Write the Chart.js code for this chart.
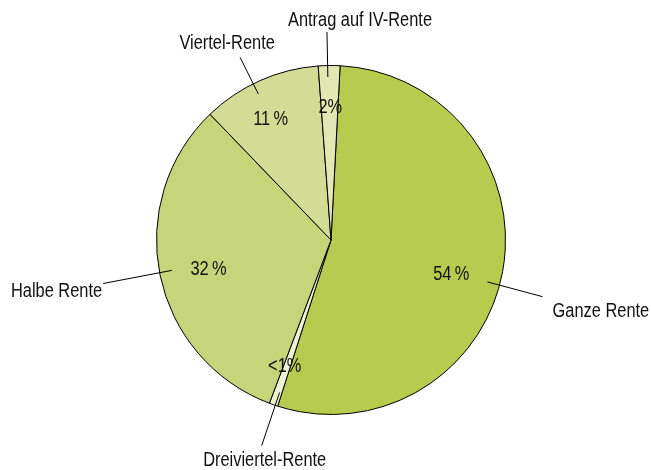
<!DOCTYPE html>
<html>
<head>
<meta charset="utf-8">
<script src="https://cdn.jsdelivr.net/npm/chart.js@4.4.1/dist/chart.umd.min.js"></script>
<style>
  html, body { margin: 0; padding: 0; background: #fff; }
  #wrap { width: 651px; height: 470px; }
</style>
</head>
<body>
<div id="wrap"><canvas id="myChart-pie" width="651" height="470"></canvas></div>
<script>
// data (clockwise from top)
var categories = ['Ganze Rente', 'Dreiviertel-Rente', 'Halbe Rente', 'Viertel-Rente', 'Antrag auf IV-Rente'];
var shares = [54, 0.8, 32, 11, 2];
var shareLabels = ['54\u2009%', '<1%', '32\u2009%', '11\u2009%', '2%'];

var sliceColors = ['#b7cc4e', '#eef2d2', '#c6d57a', '#d3dc95', '#e1e8b3'];
// no narrow font installed, so squeeze Liberation Sans horizontally
var FONT = '20px "Liberation Sans", Arial, sans-serif';
var SQUEEZE = 0.82;

// label placement per slice: radius of the % text, leader start/end radius,
// angle tweak (degrees) and offset of the category text from the leader end
var labelPos = [
    {pctR: 125, pctShift: 5.5, leadIn: 162, leadOut: 219, leadShift: 4.6, dx: 10, dy: 15, align: 'left'},
    {pctR: 135, pctShift: 0.8, leadIn: 161, leadOut: 217, leadShift: -0.6, dx: 3, dy: 15, align: 'center'},
    {pctR: 126, pctShift: -2, leadIn: 162, leadOut: 232, leadShift: 0.8, dx: -1, dy: 8, align: 'right'},
    {pctR: 135, pctShift: -2.5, leadIn: 163, leadOut: 204, leadShift: -2.4, dx: -13, dy: -14, align: 'center'},
    {pctR: 133, pctShift: 0.3, leadIn: 163, leadOut: 208, leadShift: -0.5, dx: 33, dy: -12, align: 'center'}
];

function narrowText(ctx, text, x, y, align) {
    ctx.save();
    ctx.translate(x, y);
    ctx.scale(SQUEEZE, 1);
    ctx.textAlign = align;
    ctx.fillText(text, 0, 0);
    ctx.restore();
}

var pieLabels = {
    id: 'pieLabels',
    afterDraw: function(chart) {
        var ctx = chart.ctx;
        var meta = chart.getDatasetMeta(0);
        ctx.save();
        ctx.font = FONT;
        ctx.fillStyle = '#111';
        ctx.strokeStyle = '#000';
        ctx.lineWidth = 1;
        ctx.textBaseline = 'middle';
        for (let i = 0; i < meta.data.length; i++) {
            var p = meta.data[i].getProps(['x', 'y', 'startAngle', 'endAngle'], true);
            var mid = (p.startAngle + p.endAngle) / 2;
            var lp = labelPos[i];

            var a = mid + lp.pctShift * Math.PI / 180;
            narrowText(ctx, shareLabels[i], p.x + Math.cos(a) * lp.pctR, p.y + Math.sin(a) * lp.pctR, 'center');

            var b = mid + lp.leadShift * Math.PI / 180;
            var x1 = p.x + Math.cos(b) * lp.leadIn, y1 = p.y + Math.sin(b) * lp.leadIn;
            var x2 = p.x + Math.cos(b) * lp.leadOut, y2 = p.y + Math.sin(b) * lp.leadOut;
            ctx.beginPath();
            ctx.moveTo(x1, y1);
            ctx.lineTo(x2, y2);
            ctx.stroke();

            narrowText(ctx, categories[i], x2 + lp.dx, y2 + lp.dy, lp.align);
        }
        ctx.restore();
    }
};

var ctx = document.getElementById('myChart-pie').getContext('2d');
var chart = new Chart(ctx, {
    type: 'pie',
    data: {
        labels: categories,
        datasets: [{
            data: shares,
            backgroundColor: sliceColors,
            borderColor: '#000',
            borderWidth: 1
        }]
    },
    options: {
        responsive: false,
        animation: false,
        rotation: 3,
        layout: { padding: {left: 156, right: 145, top: 65, bottom: 55} },
        plugins: {
            legend: { display: false },
            tooltip: { enabled: false }
        },
        hoverOffset: 0
    },
    plugins: [pieLabels]
});
</script>
</body>
</html>
